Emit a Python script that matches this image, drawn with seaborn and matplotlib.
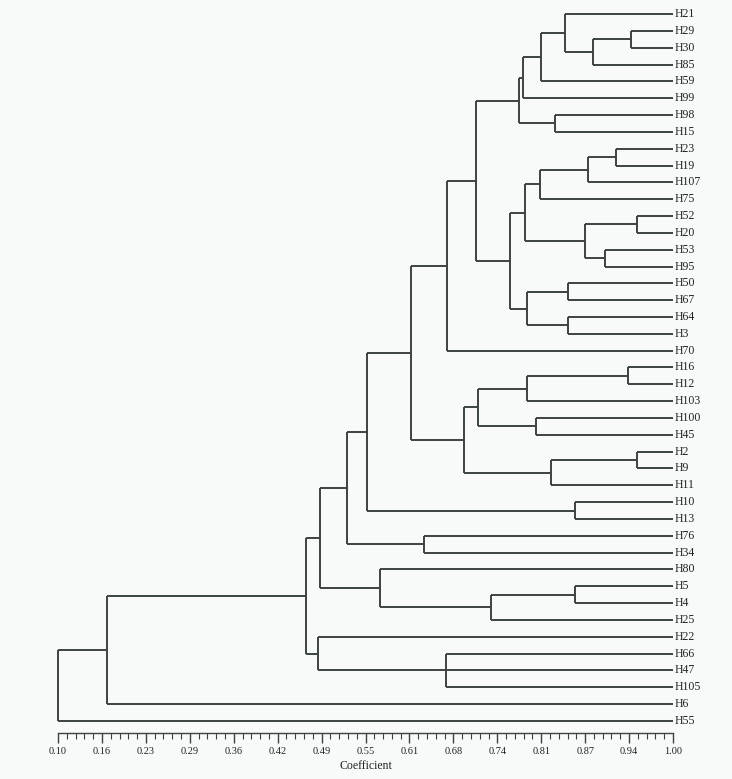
import matplotlib
matplotlib.use("Agg")
import matplotlib.pyplot as plt
import seaborn as sns
import numpy as np
import pandas as pd
from matplotlib.ticker import FixedLocator

# leaf order, top to bottom
leaves = ["H21", "H29", "H30", "H85", "H59", "H99", "H98", "H15", "H23", "H19",
          "H107", "H75", "H52", "H20", "H53", "H95", "H50", "H67", "H64", "H3",
          "H70", "H16", "H12", "H103", "H100", "H45", "H2", "H9", "H11", "H10",
          "H13", "H76", "H34", "H80", "H5", "H4", "H25", "H22", "H66", "H47",
          "H105", "H6", "H55"]

# merges: children (leaf name or earlier merge "m<i>") and coefficient
merge_children = [
    ["H29", "H30"], ["m0", "H85"], ["H21", "m1"], ["m2", "H59"], ["m3", "H99"],
    ["H98", "H15"], ["m4", "m5"], ["H23", "H19"], ["m7", "H107"], ["m8", "H75"],
    ["H52", "H20"], ["H53", "H95"], ["m10", "m11"], ["m9", "m12"], ["H50", "H67"],
    ["H64", "H3"], ["m14", "m15"], ["m13", "m16"], ["m6", "m17"], ["m18", "H70"],
    ["H16", "H12"], ["m20", "H103"], ["H100", "H45"], ["m21", "m22"], ["H2", "H9"],
    ["m24", "H11"], ["m23", "m25"], ["m19", "m26"], ["H10", "H13"], ["m27", "m28"],
    ["H76", "H34"], ["m29", "m30"], ["H5", "H4"], ["m32", "H25"], ["H80", "m33"],
    ["m31", "m34"], ["H66", "H47", "H105"], ["H22", "m36"], ["m35", "m37"],
    ["m38", "H6"], ["m39", "H55"],
]
merge_heights = [
    0.938, 0.883, 0.842, 0.807, 0.781,
    0.827, 0.774, 0.916, 0.875, 0.806,
    0.948, 0.901, 0.871, 0.784, 0.846,
    0.846, 0.787, 0.761, 0.712, 0.669,
    0.934, 0.787, 0.800, 0.714, 0.948,
    0.822, 0.694, 0.616, 0.857, 0.552,
    0.636, 0.523, 0.857, 0.733, 0.571,
    0.483, 0.668, 0.481, 0.463,
    0.172, 0.100,
]

tick_labels = ["0.10", "0.16", "0.23", "0.29", "0.36", "0.42", "0.49", "0.55",
               "0.61", "0.68", "0.74", "0.81", "0.87", "0.94", "1.00"]

# node positions
pos = {name: (1.0, i) for i, name in enumerate(leaves)}
rows = []
seg = 0
for i, (kids, h) in enumerate(zip(merge_children, merge_heights)):
    ys = []
    for k in kids:
        kx, ky = pos[k]
        rows += [(seg, kx, ky), (seg, h, ky)]
        seg += 1
        ys.append(ky)
    rows += [(seg, h, min(ys)), (seg, h, max(ys))]
    seg += 1
    pos["m%d" % i] = (h, np.mean(ys))
segs = pd.DataFrame(rows, columns=["seg", "x", "y"])

sns.set_style("white")
plt.rcParams["font.family"] = ["Liberation Serif", "DejaVu Serif"]
line_col = "#3b4343"
bg = "#f8f9f9"

fig = plt.figure(figsize=(7.32, 7.79), dpi=100, facecolor=bg)
n = len(leaves)
ax = fig.add_axes([58 / 732, 46 / 779, 615 / 732, 728 / 779])
ax.set_facecolor(bg)

sns.lineplot(data=segs, x="x", y="y", units="seg", estimator=None, sort=False,
             color=line_col, linewidth=1.4, ax=ax)
for ln in ax.lines:
    ln.set_clip_on(False)
    ln.set_solid_capstyle("butt")

step = 16.83
ax.set_xlim(0.10, 1.00)
ax.set_ylim(n - 1 + 12 / step, -9 / step)

for i, name in enumerate(leaves):
    ax.text(1.003, i, name, ha="left", va="center", fontsize=8.5, color="#222222")

ax.set_xticks(np.linspace(0.10, 1.00, len(tick_labels)))
ax.set_xticklabels(tick_labels, fontsize=7.5, color="#222222")
ax.xaxis.set_minor_locator(FixedLocator(np.linspace(0.10, 1.00, 71)))
ax.tick_params(axis="x", which="major", direction="out", length=7, width=1,
               color=line_col, pad=3, bottom=True)
ax.tick_params(axis="x", which="minor", direction="out", length=4, width=0.8,
               color=line_col, bottom=True)
ax.set_yticks([])
ax.set_xlabel("Coefficient", fontsize=8.5, labelpad=3, color="#222222")
ax.set_ylabel("")
for s in ["top", "right", "left"]:
    ax.spines[s].set_visible(False)
ax.spines["bottom"].set_color(line_col)
ax.spines["bottom"].set_linewidth(1.0)

fig.savefig("out.png", dpi=100, facecolor=bg)
